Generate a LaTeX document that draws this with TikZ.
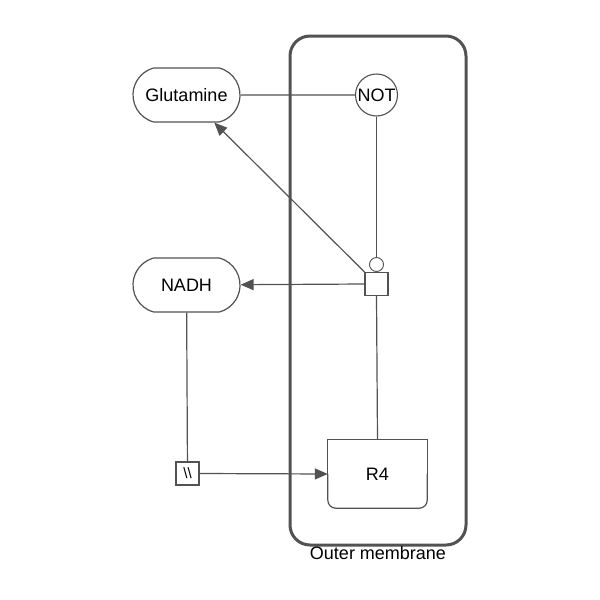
\documentclass[tikz,border=0pt]{standalone}
\usepackage{fontspec}
\setmainfont{Liberation Sans}
\usetikzlibrary{shapes.misc,arrows.meta}
\begin{document}
\begin{tikzpicture}[x=1pt,y=-1pt,
  every node/.style={font=\fontsize{18}{21}\selectfont},
  ln/.style={draw=black!68,line width=1.2pt},
  arr/.style={ln,-{Triangle[length=13pt,width=11pt]}},
  macro/.style={rounded rectangle,rounded rectangle arc length=150,draw=black!68,line width=1.2pt,minimum width=107pt,minimum height=54pt,inner sep=0pt},
  notgate/.style={circle,draw=black!68,line width=1.1pt,minimum size=42pt,inner sep=0pt},
  procbox/.style={rectangle,draw=black!68,line width=1.2pt,minimum size=23pt,inner sep=0pt},
  port/.style={circle,draw=black!68,line width=0.9pt,minimum size=14pt,inner sep=0pt}]
\useasboundingbox (0,0) rectangle (600,600);
% compartment
\node[draw=black!68,line width=3pt,rounded corners=20pt,minimum width=176pt,minimum height=509pt,inner sep=0pt] (comp) at (378,290.5) {};
\node[anchor=north] (complabel) at (378,543) {Outer membrane};
% nodes
\node[macro] (glut) at (186.5,95) {Glutamine};
\node[macro] (nadh) at (186.5,285) {NADH};
\node[notgate] (not) at (376.5,95) {NOT};
\node[procbox] (proc) at (376.5,284) {};
\node[port] (pc) at (376.5,264.5) {};
\node[procbox,font=\fontsize{15}{17}\selectfont] (ph) at (187.5,473.5) {\textbackslash\textbackslash};
\node[minimum width=99pt,minimum height=68pt,inner sep=0pt] (r4) at (377.5,474) {R4};
\draw[ln] (r4.west) -- (r4.north west) -- (r4.north east) -- (r4.east);
\draw[ln,rounded corners=8pt] (r4.east) -- (r4.south east) -- (r4.south west) -- (r4.west);
% edges
\draw[ln] (glut) -- (not);
\draw[ln] (not) -- (pc);
\draw[arr] (proc.north west) -- (glut);
\draw[arr] (proc.west) -- (nadh);
\draw[ln] (proc.south) -- (r4.north);
\draw[ln] (nadh) -- (ph);
\draw[arr] (ph.east) -- (r4.west);
\end{tikzpicture}
\end{document}
